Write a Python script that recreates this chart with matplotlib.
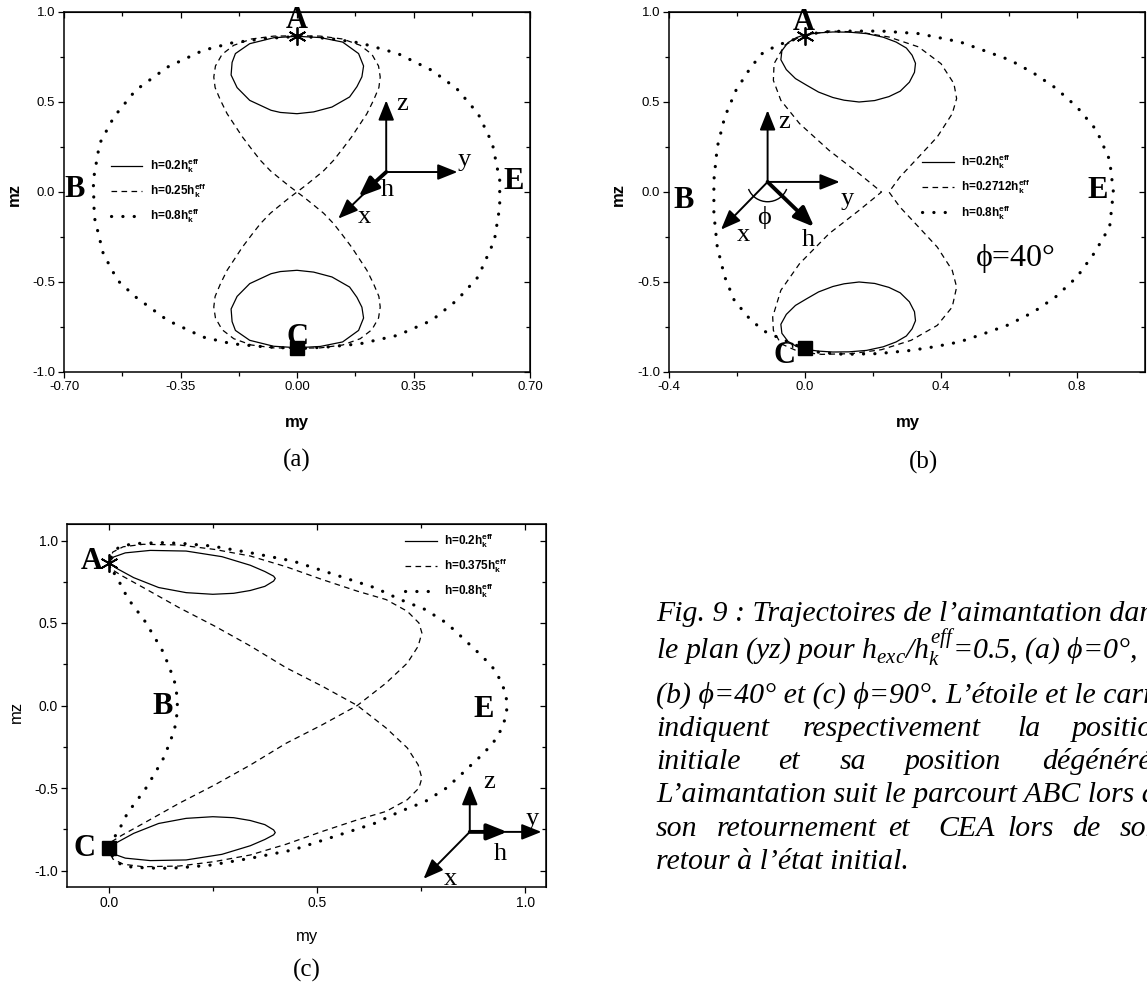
import matplotlib
matplotlib.use("Agg")
import matplotlib.pyplot as plt
from matplotlib.patches import Arc

plt.rcParams["font.family"] = ["Liberation Sans", "DejaVu Sans"]
plt.rcParams["mathtext.fontset"] = "custom"
plt.rcParams["mathtext.rm"] = "Liberation Serif"
plt.rcParams["mathtext.it"] = "Liberation Serif:italic"
plt.rcParams["mathtext.bf"] = "Liberation Sans:bold"

SERIF = ["Liberation Serif", "DejaVu Serif"]

# ---------------- (a) phi = 0 ----------------
a_solid_up_x = [0.000, 0.070, 0.137, 0.185, 0.200, 0.195, 0.180, 0.158, 0.105, 0.050, 0.000,
                -0.050, -0.078, -0.142, -0.180, -0.198, -0.195, -0.185, -0.142, -0.070, 0.000]
a_solid_up_y = [0.865, 0.858, 0.833, 0.769, 0.700, 0.640, 0.585, 0.528, 0.472, 0.445, 0.435,
                0.442, 0.454, 0.509, 0.580, 0.650, 0.720, 0.769, 0.824, 0.857, 0.865]
a_solid_dn_x = [0.000, 0.070, 0.137, 0.185, 0.200, 0.195, 0.180, 0.158, 0.105, 0.050, 0.000,
                -0.050, -0.078, -0.142, -0.180, -0.198, -0.195, -0.185, -0.142, -0.070, 0.000]
a_solid_dn_y = [-0.865, -0.858, -0.833, -0.769, -0.700, -0.640, -0.585, -0.528, -0.472, -0.445, -0.435,
                -0.442, -0.454, -0.509, -0.580, -0.650, -0.720, -0.769, -0.824, -0.857, -0.865]

a_dash_x = [0.000, 0.070, 0.137, 0.190, 0.225, 0.245, 0.250, 0.246, 0.230, 0.210, 0.185, 0.164,
            0.135, 0.110, 0.080, 0.051, 0.025, 0.000,
            -0.025, -0.051, -0.080, -0.110, -0.135, -0.164, -0.185, -0.210, -0.230, -0.246, -0.250,
            -0.245, -0.225, -0.190, -0.137, -0.070, 0.000,
            0.070, 0.137, 0.190, 0.225, 0.245, 0.250, 0.246, 0.230, 0.210, 0.185, 0.164, 0.135,
            0.110, 0.080, 0.051, 0.025, 0.000,
            -0.025, -0.051, -0.080, -0.110, -0.135, -0.164, -0.185, -0.210, -0.230, -0.246, -0.250,
            -0.245, -0.225, -0.190, -0.137, -0.070, 0.000]
a_dash_y = [0.868, 0.866, 0.850, 0.815, 0.765, 0.700, 0.639, 0.580, 0.510, 0.435, 0.365, 0.306,
            0.235, 0.176, 0.118, 0.074, 0.035, 0.000,
            -0.035, -0.074, -0.118, -0.176, -0.235, -0.306, -0.365, -0.435, -0.510, -0.580, -0.639,
            -0.700, -0.765, -0.815, -0.850, -0.866, -0.868,
            -0.866, -0.850, -0.815, -0.765, -0.700, -0.639, -0.580, -0.510, -0.435, -0.365, -0.306,
            -0.235, -0.176, -0.118, -0.074, -0.035, 0.000,
            0.035, 0.074, 0.118, 0.176, 0.235, 0.306, 0.365, 0.435, 0.510, 0.580, 0.639,
            0.700, 0.765, 0.815, 0.850, 0.866, 0.868]

a_dot_x = [0.008, 0.100, 0.190, 0.303, 0.405, 0.480, 0.544, 0.587, 0.609, 0.609, 0.593, 0.544,
           0.480, 0.405, 0.303, 0.190, 0.100, 0.008, -0.100, -0.196, -0.282, -0.389, -0.485,
           -0.539, -0.582, -0.609, -0.612, -0.593, -0.550, -0.485, -0.389, -0.282, -0.196,
           -0.100, 0.008]
a_dot_y = [0.865, 0.852, 0.828, 0.769, 0.676, 0.574, 0.435, 0.269, 0.065, -0.083, -0.269, -0.472,
           -0.602, -0.713, -0.796, -0.843, -0.860, -0.870, -0.860, -0.843, -0.806, -0.713, -0.583,
           -0.491, -0.343, -0.139, 0.065, 0.269, 0.417, 0.565, 0.694, 0.787, 0.828,
           0.852, 0.865]

# ---------------- (b) phi = 40 ----------------
b_solid_up_x = [0.000, 0.040, 0.082, 0.130, 0.181, 0.230, 0.268, 0.298, 0.315, 0.325, 0.322,
                0.307, 0.280, 0.247, 0.205, 0.159, 0.115, 0.082, 0.040, 0.005, -0.028, -0.055,
                -0.071, -0.068, -0.050, -0.025, 0.000]
b_solid_up_y = [0.874, 0.884, 0.889, 0.888, 0.880, 0.860, 0.833, 0.800, 0.760, 0.715, 0.665,
                0.610, 0.560, 0.530, 0.508, 0.500, 0.510, 0.525, 0.555, 0.593, 0.630, 0.680,
                0.735, 0.785, 0.830, 0.858, 0.874]
b_solid_dn_x = [0.000, 0.040, 0.082, 0.130, 0.181, 0.230, 0.268, 0.298, 0.315, 0.325, 0.322,
                0.307, 0.280, 0.247, 0.205, 0.159, 0.115, 0.082, 0.040, 0.005, -0.028, -0.055,
                -0.071, -0.068, -0.050, -0.025, 0.000]
b_solid_dn_y = [-0.874, -0.884, -0.889, -0.888, -0.880, -0.860, -0.833, -0.800, -0.760, -0.715, -0.665,
                -0.610, -0.560, -0.530, -0.508, -0.500, -0.510, -0.525, -0.555, -0.593, -0.630, -0.680,
                -0.735, -0.785, -0.830, -0.858, -0.874]

b_dash_x = [0.000, 0.071, 0.159, 0.247, 0.334, 0.400, 0.438, 0.446, 0.433, 0.389,
            0.334, 0.279, 0.247, 0.279, 0.334, 0.389, 0.433, 0.446, 0.433, 0.389,
            0.312, 0.225, 0.137, 0.049, -0.016, -0.071, -0.093, -0.095, -0.071, -0.016,
            0.071, 0.159, 0.225, 0.159, 0.071, -0.016, -0.071, -0.093, -0.091, -0.060,
            -0.016, 0.000]
b_dash_y = [0.870, 0.894, 0.889, 0.861, 0.806, 0.713, 0.602, 0.519, 0.435, 0.306,
            0.194, 0.083, 0.000, -0.083, -0.194, -0.306, -0.435, -0.528, -0.639, -0.741,
            -0.824, -0.876, -0.898, -0.902, -0.889, -0.843, -0.769, -0.694, -0.546, -0.398,
            -0.231, -0.102, 0.000, 0.102, 0.231, 0.380, 0.509, 0.620, 0.713, 0.815,
            0.861, 0.870]

b_dot_x = [0.000, 0.049, 0.115, 0.225, 0.334, 0.400, 0.457, 0.522, 0.603, 0.672,
           0.737, 0.800, 0.857, 0.896, 0.907, 0.896, 0.851, 0.800, 0.737, 0.672,
           0.597, 0.516, 0.454, 0.380, 0.312, 0.214, 0.115, 0.040, 0.005, -0.060,
           -0.115, -0.159, -0.208, -0.236, -0.258, -0.268, -0.268, -0.258, -0.236, -0.203,
           -0.159, -0.126, -0.082, -0.038, 0.000]
b_dot_y = [0.870, 0.889, 0.894, 0.894, 0.880, 0.855, 0.833, 0.789, 0.733, 0.661,
           0.578, 0.472, 0.344, 0.178, 0.000, -0.194, -0.339, -0.472, -0.583, -0.667,
           -0.739, -0.794, -0.833, -0.860, -0.880, -0.898, -0.902, -0.890, -0.876, -0.824,
           -0.778, -0.713, -0.602, -0.472, -0.306, -0.120, 0.065, 0.250, 0.417, 0.565,
           0.694, 0.769, 0.815, 0.843, 0.870]

# ---------------- (c) phi = 90 ----------------
c_solid_up_x = [0.000, 0.012, 0.040, 0.100, 0.186, 0.272, 0.340, 0.375, 0.396, 0.400,
                0.396, 0.375, 0.340, 0.300, 0.250, 0.186, 0.120, 0.060, 0.020, 0.000]
c_solid_up_y = [0.865, 0.900, 0.925, 0.940, 0.936, 0.902, 0.850, 0.812, 0.784, 0.770,
                0.754, 0.722, 0.697, 0.680, 0.674, 0.684, 0.715, 0.775, 0.830, 0.865]
c_solid_dn_x = [0.000, 0.012, 0.040, 0.100, 0.186, 0.272, 0.340, 0.375, 0.396, 0.400,
                0.396, 0.375, 0.340, 0.300, 0.250, 0.186, 0.120, 0.060, 0.020, 0.000]
c_solid_dn_y = [-0.865, -0.900, -0.925, -0.940, -0.936, -0.902, -0.850, -0.812, -0.784, -0.770,
                -0.754, -0.722, -0.697, -0.680, -0.674, -0.684, -0.715, -0.775, -0.830, -0.865]

c_dash_x = [0.000, 0.010, 0.035, 0.083, 0.169, 0.254, 0.340, 0.426, 0.512, 0.597,
            0.666, 0.717, 0.745, 0.752, 0.743, 0.717, 0.666, 0.597, 0.512, 0.426,
            0.340, 0.254, 0.169, 0.083, 0.032, 0.006, 0.000,
            0.010, 0.035, 0.083, 0.169, 0.254, 0.340, 0.426, 0.512, 0.597, 0.666,
            0.717, 0.745, 0.752, 0.743, 0.717, 0.666, 0.597, 0.512, 0.426, 0.340,
            0.254, 0.169, 0.083, 0.032, 0.006, 0.000]
c_dash_y = [0.865, 0.930, 0.962, 0.977, 0.973, 0.946, 0.906, 0.841, 0.764, 0.693,
            0.642, 0.571, 0.500, 0.440, 0.359, 0.257, 0.136, 0.000, -0.118, -0.229,
            -0.361, -0.482, -0.593, -0.715, -0.786, -0.827, -0.865,
            -0.930, -0.962, -0.977, -0.973, -0.946, -0.906, -0.841, -0.764, -0.693, -0.642,
            -0.571, -0.500, -0.440, -0.359, -0.257, -0.136, 0.000, 0.118, 0.229, 0.361,
            0.482, 0.593, 0.715, 0.786, 0.827, 0.865]

c_dot_x = [0.000, 0.015, 0.032, 0.045, 0.066, 0.087, 0.109, 0.130, 0.145, 0.158, 0.163,
           0.165, 0.163, 0.158, 0.145, 0.130, 0.109, 0.087, 0.066, 0.045, 0.032, 0.015, 0.000,
           0.010, 0.023, 0.057, 0.126, 0.173, 0.246, 0.340, 0.443, 0.554, 0.640,
           0.700, 0.760, 0.811, 0.846, 0.871, 0.897, 0.923, 0.940, 0.953, 0.957,
           0.953, 0.940, 0.923, 0.897, 0.871, 0.846, 0.811, 0.760, 0.700, 0.640,
           0.554, 0.443, 0.340, 0.246, 0.173, 0.126, 0.057, 0.023, 0.010, 0.000]
c_dot_y = [0.860, 0.794, 0.720, 0.652, 0.582, 0.511, 0.419, 0.328, 0.237, 0.146, 0.075,
           0.000, -0.075, -0.146, -0.237, -0.328, -0.419, -0.511, -0.582, -0.652, -0.720, -0.794, -0.860,
           -0.920, -0.956, -0.981, -0.987, -0.983, -0.967, -0.926, -0.875, -0.784, -0.713,
           -0.642, -0.582, -0.500, -0.419, -0.359, -0.298, -0.227, -0.156, -0.075, 0.000,
           0.075, 0.156, 0.227, 0.298, 0.359, 0.419, 0.500, 0.582, 0.642, 0.713,
           0.784, 0.875, 0.926, 0.967, 0.983, 0.987, 0.981, 0.956, 0.920, 0.860]

# initial (star) and degenerate (square) positions
start_pt = (0.0, 0.866)
end_pt = (0.0, -0.866)

leg_a = ["h=0.2h$_\\mathbf{k}^\\mathbf{eff}$", "h=0.25h$_\\mathbf{k}^\\mathbf{eff}$",
         "h=0.8h$_\\mathbf{k}^\\mathbf{eff}$"]
leg_b = ["h=0.2h$_\\mathbf{k}^\\mathbf{eff}$", "h=0.2712h$_\\mathbf{k}^\\mathbf{eff}$",
         "h=0.8h$_\\mathbf{k}^\\mathbf{eff}$"]
leg_c = ["h=0.2h$_\\mathbf{k}^\\mathbf{eff}$", "h=0.375h$_\\mathbf{k}^\\mathbf{eff}$",
         "h=0.8h$_\\mathbf{k}^\\mathbf{eff}$"]

W, H = 1147, 983
fig = plt.figure(figsize=(W / 100, H / 100), dpi=100)


def caja(l, t, r, b):
    return [l / W, 1 - b / H, (r - l) / W, (b - t) / H]


def fp(x, y):
    return x / W, 1 - y / H


def ejes(ax, xlim, ylim, xmaj, xmin, ymaj, ymin, xfmt, lsize=9.5):
    ax.set_xlim(xlim)
    ax.set_ylim(ylim)
    ax.set_xticks(xmaj)
    ax.set_xticks(xmin, minor=True)
    ax.set_yticks(ymaj)
    ax.set_yticks(ymin, minor=True)
    ax.set_xticklabels([xfmt % v for v in xmaj])
    ax.set_yticklabels(["%.1f" % v for v in ymaj])
    ax.tick_params(which="both", direction="out", width=0.9, labelsize=lsize, pad=2)
    ax.tick_params(which="major", length=4.5)
    ax.tick_params(which="minor", length=2.8)
    for s in ax.spines.values():
        s.set_linewidth(1.1)
    # ticks on top / right point inward
    top = ax.secondary_xaxis("top")
    top.set_xticks(xmaj)
    top.set_xticks(xmin, minor=True)
    top.tick_params(which="both", direction="in", width=0.9, labeltop=False)
    top.tick_params(which="major", length=4.5)
    top.tick_params(which="minor", length=2.8)
    der = ax.secondary_yaxis("right")
    der.set_yticks(ymaj)
    der.set_yticks(ymin, minor=True)
    der.tick_params(which="both", direction="in", width=0.9, labelright=False)
    der.tick_params(which="major", length=4.5)
    der.tick_params(which="minor", length=2.8)


def curvas(ax, solids, dash, dot):
    hs = []
    for xs, ys in solids:
        hs.append(ax.plot(xs, ys, color="k", lw=0.9)[0])
    hd = ax.plot(dash[0], dash[1], color="k", lw=0.9, ls=(0, (4.5, 3.5)))[0]
    ho = ax.plot(dot[0], dot[1], color="k", lw=2.3, ls=(0, (0.05, 3.5)),
                 dash_capstyle="round")[0]
    ax.plot(*start_pt, marker=(6, 2, 0), ms=13, mew=1.3, color="k", clip_on=False)
    ax.plot(*end_pt, marker="s", ms=9.5, color="k", clip_on=False)
    return [hs[0], hd, ho]


def flecha(ax, p0, p1, lw=1.4):
    ax.annotate("", xy=p1, xytext=p0,
                arrowprops=dict(arrowstyle="-|>,head_length=0.75,head_width=0.3",
                                lw=lw, color="k", shrinkA=0, shrinkB=0, mutation_scale=16),
                annotation_clip=False)


def letra(ax, x, y, s, size=19, bold=False):
    ax.text(x, y, s, family=SERIF, fontsize=size, ha="center", va="center",
            weight="bold" if bold else "normal", clip_on=False)


def leyenda(ax, hs, labels, x, y):
    ax.legend(hs, labels, loc="upper left", bbox_to_anchor=(x, y), frameon=False,
              prop=dict(family="Liberation Sans", weight="bold", size=8.5),
              handlelength=2.7, handletextpad=0.6, labelspacing=0.6, borderpad=0,
              borderaxespad=0)


# ---------- panel (a) ----------
ax = fig.add_axes(caja(64, 12, 530, 372))
ejes(ax, (-0.7, 0.7), (-1.0, 1.0), [-0.70, -0.35, 0.0, 0.35, 0.70],
     [-0.525, -0.175, 0.175, 0.525], [-1.0, -0.5, 0.0, 0.5, 1.0],
     [-0.75, -0.25, 0.25, 0.75], "%.2f")
hs = curvas(ax, [(a_solid_up_x, a_solid_up_y), (a_solid_dn_x, a_solid_dn_y)],
            (a_dash_x, a_dash_y), (a_dot_x, a_dot_y))
leyenda(ax, hs, leg_a, 0.10, 0.598)
letra(ax, 0.0, 0.955, "A", 22, True)
letra(ax, -0.668, 0.015, "B", 22, True)
letra(ax, 0.0, -0.806, "C", 22, True)
letra(ax, 0.652, 0.060, "E", 22, True)
flecha(ax, (0.268, 0.111), (0.268, 0.509))
flecha(ax, (0.268, 0.111), (0.482, 0.111))
flecha(ax, (0.268, 0.111), (0.124, -0.148))
flecha(ax, (0.268, 0.111), (0.185, -0.028), lw=2.8)
letra(ax, 0.317, 0.491, "z")
letra(ax, 0.502, 0.176, "y")
letra(ax, 0.271, 0.009, "h")
letra(ax, 0.203, -0.139, "x")
fig.text(*fp(297, 423), "my", ha="center", va="center", fontsize=12, weight="bold")
fig.text(*fp(14, 195), "mz", ha="center", va="center", fontsize=12, weight="bold",
         rotation=90)
fig.text(*fp(297, 460), "(a)", ha="center", va="center", fontsize=18, family=SERIF)

# ---------- panel (b) ----------
ax = fig.add_axes(caja(669, 12, 1145, 372))
ejes(ax, (-0.4, 1.0), (-1.0, 1.0), [-0.4, 0.0, 0.4, 0.8], [-0.2, 0.2, 0.6],
     [-1.0, -0.5, 0.0, 0.5, 1.0], [-0.75, -0.25, 0.25, 0.75], "%.1f")
hs = curvas(ax, [(b_solid_up_x, b_solid_up_y), (b_solid_dn_x, b_solid_dn_y)],
            (b_dash_x, b_dash_y), (b_dot_x, b_dot_y))
leyenda(ax, hs, leg_b, 0.532, 0.608)
letra(ax, -0.005, 0.944, "A", 22, True)
letra(ax, -0.356, -0.046, "B", 22, True)
letra(ax, -0.060, -0.907, "C", 22, True)
letra(ax, 0.860, 0.009, "E", 22, True)
flecha(ax, (-0.11, 0.056), (-0.11, 0.454))
flecha(ax, (-0.11, 0.056), (0.102, 0.056))
flecha(ax, (-0.11, 0.056), (-0.247, -0.209))
flecha(ax, (-0.11, 0.056), (0.027, -0.194), lw=2.8)
ax.add_patch(Arc((-0.11, 0.056), 0.12, 0.22, theta1=215, theta2=325, lw=1.0, color="k"))
letra(ax, -0.060, 0.389, "z")
letra(ax, 0.124, -0.037, "y")
letra(ax, -0.181, -0.241, "x")
letra(ax, 0.011, -0.269, "h")
letra(ax, -0.121, -0.139, "\u03d5")
letra(ax, 0.619, -0.370, "\u03d5=40°", 23)
fig.text(*fp(908, 423), "my", ha="center", va="center", fontsize=12, weight="bold")
fig.text(*fp(618, 195), "mz", ha="center", va="center", fontsize=12, weight="bold",
         rotation=90)
fig.text(*fp(923, 462), "(b)", ha="center", va="center", fontsize=18, family=SERIF)

# ---------- panel (c) ----------
ax = fig.add_axes(caja(67, 524, 546, 887))
ejes(ax, (-0.1, 1.05), (-1.1, 1.1), [0.0, 0.5, 1.0], [0.25, 0.75],
     [-1.0, -0.5, 0.0, 0.5, 1.0], [-0.75, -0.25, 0.25, 0.75], "%.1f", lsize=10)
hs = curvas(ax, [(c_solid_up_x, c_solid_up_y), (c_solid_dn_x, c_solid_dn_y)],
            (c_dash_x, c_dash_y), (c_dot_x, c_dot_y))
leyenda(ax, hs, leg_c, 0.706, 0.978)
letra(ax, -0.041, 0.875, "A", 22, True)
letra(ax, 0.130, -0.006, "B", 22, True)
letra(ax, -0.058, -0.867, "C", 22, True)
letra(ax, 0.901, -0.026, "E", 22, True)
flecha(ax, (0.867, -0.766), (0.867, -0.482))
flecha(ax, (0.867, -0.766), (1.039, -0.766))
flecha(ax, (0.867, -0.766), (0.756, -1.050))
flecha(ax, (0.867, -0.766), (0.957, -0.766), lw=2.8)
letra(ax, 0.913, -0.462, "z")
letra(ax, 1.017, -0.685, "y")
letra(ax, 0.940, -0.898, "h")
letra(ax, 0.820, -1.050, "x")
fig.text(*fp(307, 937), "my", ha="center", va="center", fontsize=12)
fig.text(*fp(16, 712), "mz", ha="center", va="center", fontsize=12, rotation=90)
fig.text(*fp(307, 970), "(c)", ha="center", va="center", fontsize=18, family=SERIF)

# ---------- caption ----------
cap = dict(family=SERIF, style="italic", fontsize=21.5, va="baseline", ha="left")
fig.text(*fp(656, 621), "Fig. 9 : Trajectoires de l\u2019aimantation dans", **cap)
fig.text(*fp(656, 660), "le plan (yz) pour $h_{exc}$/$h_k^{eff}$=0.5, (a) \u03d5=0°,", **cap)
fig.text(*fp(656, 703), "(b) \u03d5=40° et (c) \u03d5=90°. L\u2019étoile et le carré", **cap)
for x, w in zip([656, 803, 1017, 1072], ["indiquent", "respectivement", "la", "position"]):
    fig.text(*fp(x, 736), w, **cap)
for x, w in zip([656, 778, 840, 905, 1042], ["initiale", "et", "sa", "position", "dégénérée."]):
    fig.text(*fp(x, 769), w, **cap)
fig.text(*fp(656, 802), "L\u2019aimantation suit le parcourt ABC lors de", **cap)
for x, w in zip([656, 717, 888, 938, 1007, 1072, 1120],
                ["son", "retournement", "et", "CEA", "lors", "de", "son"]):
    fig.text(*fp(x, 836), w, **cap)
fig.text(*fp(656, 869), "retour à l\u2019état initial.", **cap)

fig.savefig("out.png", dpi=100)
